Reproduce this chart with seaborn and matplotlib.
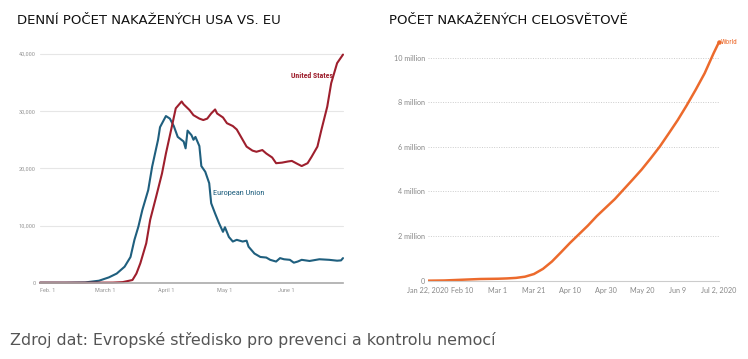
import pandas as pd
import seaborn as sns
import matplotlib.pyplot as plt
from matplotlib import font_manager as fm
from matplotlib.ticker import FuncFormatter

# Denni pocet nakazenych - EU
eu_dates = ["2020-01-28", "2020-02-10", "2020-02-20", "2020-02-27", "2020-03-03", "2020-03-07",
            "2020-03-11", "2020-03-14", "2020-03-16", "2020-03-18", "2020-03-20", "2020-03-23",
            "2020-03-25", "2020-03-28", "2020-03-29", "2020-04-01", "2020-04-03", "2020-04-05",
            "2020-04-07", "2020-04-10", "2020-04-11", "2020-04-12", "2020-04-14", "2020-04-15",
            "2020-04-16", "2020-04-18", "2020-04-19", "2020-04-21", "2020-04-23", "2020-04-24",
            "2020-04-26", "2020-04-28", "2020-04-30", "2020-05-01", "2020-05-03", "2020-05-05",
            "2020-05-07", "2020-05-10", "2020-05-12", "2020-05-13", "2020-05-16", "2020-05-19",
            "2020-05-22", "2020-05-24", "2020-05-27", "2020-05-29", "2020-05-31", "2020-06-03",
            "2020-06-05", "2020-06-07", "2020-06-09", "2020-06-13", "2020-06-18", "2020-06-23",
            "2020-06-27", "2020-06-29", "2020-06-30"]
eu_cases = [0, 0, 50, 350, 930, 1600,
            2800, 4500, 7500, 9800, 12700, 16200,
            20300, 25000, 27200, 29150, 28700, 27400,
            25500, 24700, 23500, 26600, 25800, 25000,
            25500, 23900, 20400, 19400, 17400, 13900,
            12100, 10400, 8900, 9700, 8000, 7200,
            7500, 7200, 7350, 6300, 5100, 4500,
            4400, 4000, 3700, 4300, 4100, 4000,
            3500, 3700, 4000, 3800, 4100, 4000,
            3850, 3900, 4300]

# Denni pocet nakazenych - USA
us_dates = ["2020-01-28", "2020-02-20", "2020-03-05", "2020-03-10", "2020-03-15", "2020-03-17",
            "2020-03-19", "2020-03-22", "2020-03-24", "2020-03-27", "2020-03-30", "2020-04-01",
            "2020-04-04", "2020-04-06", "2020-04-09", "2020-04-10", "2020-04-13", "2020-04-15",
            "2020-04-18", "2020-04-20", "2020-04-22", "2020-04-24", "2020-04-26", "2020-04-27",
            "2020-04-30", "2020-05-02", "2020-05-05", "2020-05-07", "2020-05-10", "2020-05-12",
            "2020-05-15", "2020-05-17", "2020-05-20", "2020-05-22", "2020-05-25", "2020-05-27",
            "2020-05-30", "2020-06-02", "2020-06-04", "2020-06-07", "2020-06-09", "2020-06-12",
            "2020-06-14", "2020-06-17", "2020-06-19", "2020-06-22", "2020-06-24", "2020-06-27",
            "2020-06-30"]
us_cases = [0, 0, 20, 100, 470, 1600,
            3400, 6900, 11000, 15000, 19100, 22600,
            27300, 30500, 31700, 31200, 30200, 29300,
            28700, 28450, 28700, 29600, 30300, 29600,
            28900, 27900, 27400, 26800, 25000, 23800,
            23100, 22900, 23200, 22600, 21900, 20900,
            21000, 21200, 21300, 20750, 20400, 20900,
            22000, 23800, 26700, 30800, 34900, 38400,
            39900]

# Celkovy pocet nakazenych ve svete
world_dates = ["2020-01-22", "2020-01-31", "2020-02-10", "2020-02-20", "2020-03-01", "2020-03-06",
               "2020-03-11", "2020-03-16", "2020-03-21", "2020-03-26", "2020-03-31", "2020-04-05",
               "2020-04-10", "2020-04-15", "2020-04-20", "2020-04-25", "2020-04-30", "2020-05-05",
               "2020-05-10", "2020-05-15", "2020-05-20", "2020-05-25", "2020-05-30", "2020-06-04",
               "2020-06-09", "2020-06-14", "2020-06-19", "2020-06-24", "2020-06-29", "2020-07-02"]
world_cases = [555, 9900, 43000, 76000, 88000, 102000,
               126000, 180000, 300000, 530000, 860000, 1270000,
               1690000, 2080000, 2470000, 2900000, 3280000, 3660000,
               4100000, 4540000, 4990000, 5490000, 6010000, 6600000,
               7200000, 7860000, 8560000, 9300000, 10200000, 10700000]

left_ticks = ["2020-02-01", "2020-03-01", "2020-04-01", "2020-05-01", "2020-06-01"]
left_ticklabels = ["Feb. 1", "March 1", "April 1", "May 1", "June 1"]
left_yticks = [0, 10000, 20000, 30000, 40000]

right_ticks = ["2020-01-22", "2020-02-10", "2020-03-01", "2020-03-21", "2020-04-10",
               "2020-04-30", "2020-05-20", "2020-06-09", "2020-07-02"]
right_ticklabels = ["Jan 22, 2020", "Feb 10", "Mar 1", "Mar 21", "Apr 10",
                    "Apr 30", "May 20", "Jun 9", "Jul 2, 2020"]
right_yticks = [0, 2e6, 4e6, 6e6, 8e6, 10e6]

US_COLOR = "#9e1f2d"
EU_COLOR = "#1f5f7e"
WORLD_COLOR = "#ec6a2c"


def narrow_font(size, bold=False):
    # najde uzky (condensed) font, pokud je k dispozici
    def is_bold(w):
        if isinstance(w, str):
            return w in ("bold", "heavy", "black", "demibold", "semibold", "extra bold")
        return w >= 600
    prefs = ["Liberation Sans Narrow", "Roboto Condensed", "Open Sans Condensed",
             "DejaVu Sans Condensed", "DejaVu Sans"]
    for name in prefs:
        for f in fm.fontManager.ttflist:
            narrow = ("Narrow" in f.name or "Condensed" in f.name or
                      f.stretch in ("condensed", "semi-condensed", "extra-condensed"))
            if f.name == name and narrow and is_bold(f.weight) == bold and f.style == "normal":
                return fm.FontProperties(fname=f.fname, size=size)
    return fm.FontProperties(family="Liberation Sans", size=size * 0.9,
                             weight="bold" if bold else "normal")


def main():
    sns.set_style("white")
    plt.rcParams["font.family"] = ["DejaVu Sans"]

    eu = pd.DataFrame({"date": pd.to_datetime(eu_dates), "cases": eu_cases})
    us = pd.DataFrame({"date": pd.to_datetime(us_dates), "cases": us_cases})
    world = pd.DataFrame({"date": pd.to_datetime(world_dates), "cases": world_cases})

    fig = plt.figure(figsize=(7.48, 3.59), dpi=100)

    # --- levy graf ---
    ax1 = fig.add_axes([40 / 748, 1 - 282.7 / 359, 303 / 748, 228.7 / 359])
    for y in left_yticks[1:]:
        ax1.axhline(y, color="#e6e6e6", lw=0.8, zorder=0)
    sns.lineplot(data=eu, x="date", y="cases", ax=ax1, color=EU_COLOR, lw=1.5)
    sns.lineplot(data=us, x="date", y="cases", ax=ax1, color=US_COLOR, lw=1.5)
    for line in ax1.lines:
        line.set_clip_on(False)
    ax1.set_xlim(pd.Timestamp("2020-01-28"), pd.Timestamp("2020-06-30"))
    ax1.set_ylim(0, 40000)
    ax1.set_xticks(pd.to_datetime(left_ticks))
    ax1.set_xticklabels(left_ticklabels, color="#999999")
    ax1.set_yticks(left_yticks)
    ax1.yaxis.set_major_formatter(FuncFormatter(lambda v, p: f"{int(v):,}"))
    tick_fp = narrow_font(4.6)
    for t in ax1.get_xticklabels() + ax1.get_yticklabels():
        t.set_fontproperties(tick_fp)
        t.set_color("#999999")
    ax1.tick_params(axis="x", length=2, width=0.5, color="#bbbbbb", pad=2)
    ax1.tick_params(axis="y", length=0, pad=3)
    ax1.set_xlabel("")
    ax1.set_ylabel("")
    for s in ["top", "right", "left"]:
        ax1.spines[s].set_visible(False)
    ax1.spines["bottom"].set_color("#aaaaaa")
    ax1.spines["bottom"].set_linewidth(1.2)
    ax1.text(pd.Timestamp("2020-06-25"), 36300, "United States", color=US_COLOR,
             fontproperties=narrow_font(5.6, bold=True), ha="right", va="center")
    ax1.text(pd.Timestamp("2020-04-25"), 15700, "European Union", color=EU_COLOR,
             fontproperties=narrow_font(6.0), ha="left", va="center")

    # --- pravy graf ---
    ax2 = fig.add_axes([428 / 748, 1 - 280.7 / 359, 291 / 748, 245.3 / 359])
    for y in right_yticks[1:]:
        ax2.axhline(y, color="#cccccc", lw=0.7, ls=(0, (1, 1.5)), zorder=0)
    sns.lineplot(data=world, x="date", y="cases", ax=ax2, color=WORLD_COLOR, lw=1.8)
    ax2.plot(world["date"].iloc[-1], world["cases"].iloc[-1], "o", color=WORLD_COLOR, ms=2.2,
             clip_on=False)
    ax2.text(world["date"].iloc[-1] + pd.Timedelta(days=1), world["cases"].iloc[-1], "World",
             color=WORLD_COLOR, fontproperties=narrow_font(5.2), ha="left", va="center")
    ax2.set_xlim(pd.Timestamp("2020-01-22"), pd.Timestamp("2020-07-02"))
    ax2.set_ylim(0, 11e6)
    ax2.set_xticks(pd.to_datetime(right_ticks))
    ax2.set_xticklabels(right_ticklabels)
    ax2.set_yticks(right_yticks)
    ax2.yaxis.set_major_formatter(FuncFormatter(lambda v, p: "0" if v == 0 else f"{int(v / 1e6)} million"))
    lab_fp = fm.FontProperties(family=["Lato", "DejaVu Sans"], size=5.2)
    for t in ax2.get_xticklabels() + ax2.get_yticklabels():
        t.set_fontproperties(lab_fp)
        t.set_color("#888888")
    ax2.tick_params(axis="x", length=2.5, width=0.5, color="#bbbbbb", pad=2)
    ax2.tick_params(axis="y", length=0, pad=2)
    ax2.set_xlabel("")
    ax2.set_ylabel("")
    for s in ["top", "right", "left"]:
        ax2.spines[s].set_visible(False)
    ax2.spines["bottom"].set_color("#cccccc")
    ax2.spines["bottom"].set_linewidth(0.8)

    # titulky a zdroj
    fig.text(17 / 748, 1 - 21 / 359, "DENNÍ POČET NAKAŽENÝCH USA VS. EU", fontsize=9.5,
             color="#111111", ha="left", va="center")
    fig.text(389 / 748, 1 - 21 / 359, "POČET NAKAŽENÝCH CELOSVĚTOVĚ", fontsize=9.5,
             color="#111111", ha="left", va="center")
    fig.text(10 / 748, 1 - 340 / 359, "Zdroj dat: Evropské středisko pro prevenci a kontrolu nemocí",
             fontsize=11.4, color="#555555", ha="left", va="center")

    fig.savefig("out.png", dpi=100)


if __name__ == "__main__":
    main()
